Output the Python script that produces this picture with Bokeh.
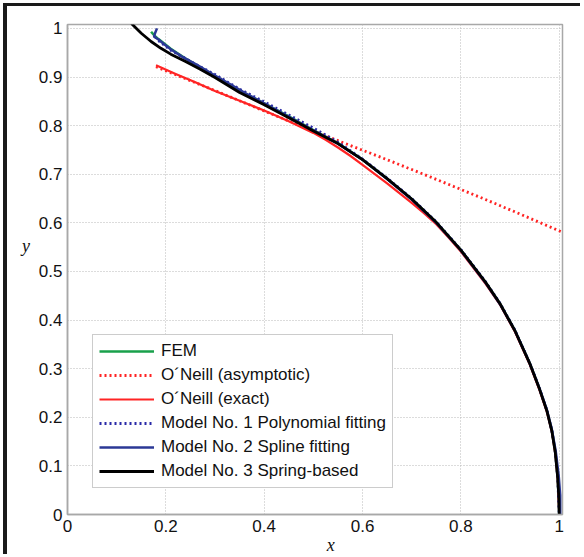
from bokeh.plotting import figure
from bokeh.models import Range1d, FixedTicker, Legend, LegendItem
from bokeh.embed import file_html
from bokeh.resources import INLINE

# ---------------- data ----------------
fem_x = [0.17, 0.177, 0.185, 0.194, 0.21, 0.24, 0.27, 0.30, 0.35, 0.40, 0.45,
         0.50, 0.55, 0.60, 0.65, 0.70, 0.75, 0.80, 0.85, 0.88, 0.91, 0.94,
         0.96, 0.975, 0.985, 0.992, 0.997, 1.0]
fem_y = [0.993, 0.985, 0.978, 0.971, 0.958, 0.938, 0.920, 0.902, 0.872, 0.846,
         0.819, 0.791, 0.764, 0.730, 0.691, 0.649, 0.601, 0.544, 0.478, 0.433,
         0.378, 0.311, 0.258, 0.213, 0.172, 0.128, 0.075, 0.0]

asym_x = [0.18, 0.3, 0.4, 0.491, 0.56, 0.637, 0.739, 0.85, 0.93, 1.01]
asym_y = [0.921, 0.872, 0.830, 0.793, 0.765, 0.735, 0.694, 0.648, 0.614, 0.579]

exact_x = [0.18, 0.22, 0.26, 0.30, 0.35, 0.40, 0.45, 0.50, 0.525, 0.55, 0.575,
           0.60, 0.625, 0.65, 0.675, 0.70, 0.725, 0.75, 0.775, 0.80, 0.85,
           0.88, 0.91, 0.94, 0.96, 0.975, 0.985, 0.992, 0.997, 1.0]
exact_y = [0.924, 0.906, 0.889, 0.871, 0.851, 0.831, 0.809, 0.785, 0.771, 0.755,
           0.738, 0.719, 0.700, 0.681, 0.661, 0.641, 0.620, 0.597, 0.570, 0.541,
           0.475, 0.431, 0.376, 0.309, 0.256, 0.211, 0.170, 0.126, 0.073, 0.0]

poly_x = [0.185, 0.21, 0.24, 0.27, 0.30, 0.35, 0.40, 0.45, 0.50, 0.55, 0.60,
          0.65, 0.70, 0.75, 0.80, 0.85, 0.88, 0.91, 0.94, 0.96, 0.975, 0.985,
          0.992, 0.997, 1.0]
poly_y = [0.975, 0.955, 0.938, 0.921, 0.905, 0.875, 0.849, 0.822, 0.795, 0.766,
          0.731, 0.692, 0.650, 0.602, 0.545, 0.479, 0.434, 0.379, 0.312, 0.259,
          0.214, 0.173, 0.129, 0.076, 0.0]

spline_x = [0.182, 0.178, 0.176, 0.185, 0.196, 0.21, 0.231, 0.265, 0.30, 0.333,
            0.37, 0.40, 0.45, 0.50, 0.55, 0.60, 0.65, 0.70, 0.75, 0.80, 0.85,
            0.88, 0.91, 0.94, 0.96, 0.975, 0.985, 0.993, 0.999, 1.002, 1.002]
spline_y = [1.0, 0.99, 0.983, 0.977, 0.968, 0.957, 0.943, 0.924, 0.903, 0.884,
            0.862, 0.846, 0.818, 0.790, 0.763, 0.730, 0.690, 0.648, 0.600, 0.543,
            0.477, 0.432, 0.378, 0.311, 0.259, 0.215, 0.175, 0.13, 0.08, 0.04, 0.0]

spring_x = [0.13, 0.15, 0.17, 0.19, 0.21, 0.24, 0.27, 0.30, 0.35, 0.40, 0.45,
            0.50, 0.55, 0.60, 0.65, 0.70, 0.75, 0.80, 0.85, 0.88, 0.91, 0.94,
            0.96, 0.975, 0.985, 0.992, 0.997, 0.9995, 1.0]
spring_y = [1.01, 0.99, 0.973, 0.959, 0.947, 0.932, 0.916, 0.899, 0.868, 0.843,
            0.816, 0.789, 0.763, 0.730, 0.691, 0.649, 0.601, 0.544, 0.478, 0.433,
            0.378, 0.311, 0.258, 0.213, 0.172, 0.128, 0.075, 0.03, 0.0]

x_ticks = [0, 0.2, 0.4, 0.6, 0.8, 1.0]
x_tick_labels = ["0", "0.2", "0.4", "0.6", "0.8", "1"]
y_ticks = [0, 0.1, 0.2, 0.3, 0.4, 0.5, 0.6, 0.7, 0.8, 0.9, 1.0]
y_tick_labels = ["0", "0.1", "0.2", "0.3", "0.4", "0.5", "0.6", "0.7", "0.8", "0.9", "1"]

legend_labels = ["FEM", "O\u00b4Neill (asymptotic)", "O\u00b4Neill (exact)",
                 "Model No. 1 Polynomial fitting", "Model No. 2 Spline fitting",
                 "Model No. 3 Spring-based"]

# ---------------- figure ----------------
# host element is offset by a thin black scan frame (left/top)
p = figure(width=577, height=551, output_backend="svg", toolbar_location=None,
           x_range=Range1d(0, 1.0067), y_range=Range1d(0, 1.008),
           min_border_left=60, min_border_right=22, min_border_top=18,
           min_border_bottom=42)
p.styles = {"margin-left": "3px", "margin-top": "3px",
            "border-left": "4px solid #1a1a1a", "border-top": "3px solid #1a1a1a",
            "outline": "1.5px solid #e6e6e6", "outline-offset": "-9px"}
p.background_fill_color = "white"
p.border_fill_color = "white"
p.outline_line_color = "#a8a8a8"
p.outline_line_width = 1.5

FONT = "Liberation Sans"
for ax, ticks, labels in ((p.xaxis[0], x_ticks, x_tick_labels),
                          (p.yaxis[0], y_ticks, y_tick_labels)):
    ax.ticker = FixedTicker(ticks=ticks)
    ax.major_label_overrides = {t: l for t, l in zip(ticks, labels)}
    ax.major_label_text_font = FONT
    ax.major_label_text_font_size = "17px"
    ax.major_label_text_color = "#111111"
    ax.axis_line_color = "#a8a8a8"
    ax.axis_line_width = 1.5
    ax.major_tick_in = 0
    ax.major_tick_out = 0
    ax.minor_tick_line_color = None
    ax.axis_label_text_font = "Liberation Serif"
    ax.axis_label_text_font_style = "italic"
    ax.axis_label_text_font_size = "18px"
    ax.axis_label_text_color = "#111111"

NB = "\u00a0"
p.xaxis.axis_label = NB * 7 + "x"
p.xaxis.major_label_standoff = 5
p.xaxis.axis_label_standoff = 0
p.yaxis.axis_label = "y\n" + NB + "\n" + NB
p.yaxis.axis_label_orientation = "horizontal"
p.yaxis.major_label_standoff = 5
p.yaxis.axis_label_standoff = 6

p.xgrid.ticker = FixedTicker(ticks=x_ticks)
p.ygrid.ticker = FixedTicker(ticks=y_ticks)
p.grid.grid_line_color = "#b8b8b8"
p.grid.grid_line_dash = "1 2"
p.grid.grid_line_width = 1

# ---------------- series ----------------
r_fem = p.line(fem_x, fem_y, line_color="#19a04b", line_width=2.5)
r_asym = p.line(asym_x, asym_y, line_color="#ff2424", line_width=2.8,
                line_dash="2 3")
r_exact = p.line(exact_x, exact_y, line_color="#ff2424", line_width=2.2)
r_poly = p.line(poly_x, poly_y, line_color="#2a2aa8", line_width=2.8,
                line_dash="2 3")
r_spline = p.line(spline_x, spline_y, line_color="#2b3896", line_width=2.5)
r_spring = p.line(spring_x, spring_y, line_color="black", line_width=2.8)

renderers = [r_fem, r_asym, r_exact, r_poly, r_spline, r_spring]
legend = Legend(items=[LegendItem(label=l, renderers=[r])
                       for l, r in zip(legend_labels, renderers)],
                location=(25, 26), label_text_font=FONT,
                label_text_font_size="17px", label_text_color="#111111",
                glyph_width=55, glyph_height=20, label_height=20,
                label_standoff=7, spacing=4, padding=6, margin=0,
                border_line_color="#9a9a9a", border_line_width=1,
                background_fill_color="white", background_fill_alpha=1)
p.add_layout(legend, "center")

open("out.html", "w").write(file_html(p, INLINE))
